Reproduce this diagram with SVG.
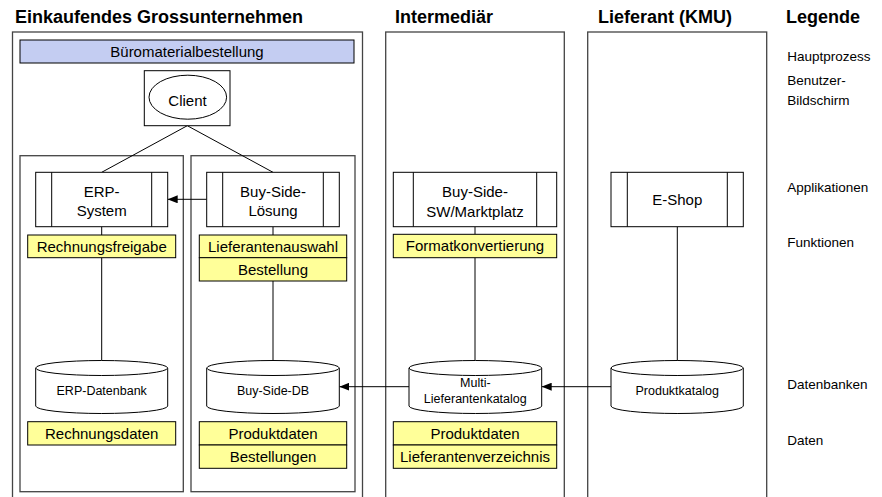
<svg xmlns="http://www.w3.org/2000/svg" width="882" height="497" viewBox="0 0 882 497">
<defs>
<style>
text{font-family:"Liberation Sans",Arial,sans-serif;fill:#000}
.title{font-size:18px;font-weight:bold}
.t{font-size:15px;text-anchor:middle}
.db{font-size:12.5px;text-anchor:middle}
.leg{font-size:13.5px}
.cont{fill:#fff;stroke:#444;stroke-width:1.3}
.node{fill:#fff;stroke:#000;stroke-width:1}
.fn{fill:#ffff99;stroke:#000;stroke-width:1}
.ln{stroke:#000;stroke-width:1;fill:none}
</style>
<marker id="ah" markerWidth="10" markerHeight="8" refX="10" refY="4" orient="auto" markerUnits="userSpaceOnUse">
<path d="M0,0 L10,4 L0,8 Z" fill="#000"/>
</marker>
</defs>
<rect width="882" height="497" fill="#fff"/>

<g id="titles">
<text class="title" x="15" y="23">Einkaufendes Grossunternehmen</text>
<text class="title" x="395" y="23">Intermediär</text>
<text class="title" x="598" y="23">Lieferant (KMU)</text>
<text class="title" x="786" y="23">Legende</text>
</g>

<g id="containers">
<rect class="cont" x="12.5" y="32" width="350" height="480"/>
<rect class="cont" x="385.7" y="32" width="178.6" height="480"/>
<rect class="cont" x="587.7" y="32" width="179" height="480"/>
<rect class="cont" x="20" y="155.7" width="163.3" height="336"/>
<rect class="cont" x="191" y="155.7" width="164" height="336"/>
</g>

<g id="connectors">
<line class="ln" x1="187.3" y1="125.7" x2="101.7" y2="172.3"/>
<line class="ln" x1="187.3" y1="125.7" x2="273" y2="172.3"/>
<line class="ln" x1="206.7" y1="199.3" x2="167.7" y2="199.3" marker-end="url(#ah)"/>
<line class="ln" x1="101.7" y1="226.7" x2="101.7" y2="235"/>
<line class="ln" x1="101.7" y1="257.7" x2="101.7" y2="360.5"/>
<line class="ln" x1="273" y1="226.7" x2="273" y2="235"/>
<line class="ln" x1="273" y1="281" x2="273" y2="360.5"/>
<line class="ln" x1="475" y1="226.7" x2="475" y2="234.3"/>
<line class="ln" x1="475" y1="257.7" x2="475" y2="360.5"/>
<line class="ln" x1="677.3" y1="226.7" x2="677.3" y2="360.5"/>
<line class="ln" x1="409" y1="386.7" x2="339.3" y2="386.7" marker-end="url(#ah)"/>
<line class="ln" x1="611" y1="386.7" x2="541.7" y2="386.7" marker-end="url(#ah)"/>
</g>

<g id="hauptprozess">
<rect x="20" y="40" width="334" height="23" fill="#c4cdf2" stroke="#000" stroke-width="1"/>
<text class="t" x="187" y="57">Büromaterialbestellung</text>
</g>

<g id="client">
<rect class="node" x="144.3" y="70.7" width="85.7" height="55"/>
<ellipse class="node" cx="187.8" cy="97.2" rx="38.8" ry="22"/>
<text class="t" x="187.5" y="106">Client</text>
</g>

<g id="erp-system">
<rect class="node" x="35.7" y="172.3" width="132" height="54.4"/>
<line class="ln" x1="51.7" y1="172.3" x2="51.7" y2="226.7"/>
<line class="ln" x1="151.7" y1="172.3" x2="151.7" y2="226.7"/>
<text class="t" x="101.7" y="197">ERP-</text>
<text class="t" x="101.7" y="215.5">System</text>
</g>

<g id="buy-side-loesung">
<rect class="node" x="206.7" y="172.3" width="132.6" height="54.4"/>
<line class="ln" x1="222.7" y1="172.3" x2="222.7" y2="226.7"/>
<line class="ln" x1="323.3" y1="172.3" x2="323.3" y2="226.7"/>
<text class="t" x="273" y="197">Buy-Side-</text>
<text class="t" x="273" y="215.5">Lösung</text>
</g>

<g id="buy-side-sw">
<rect class="node" x="393.3" y="172.3" width="163.4" height="54.4"/>
<line class="ln" x1="413.3" y1="172.3" x2="413.3" y2="226.7"/>
<line class="ln" x1="536.7" y1="172.3" x2="536.7" y2="226.7"/>
<text class="t" x="475" y="197">Buy-Side-</text>
<text class="t" x="475" y="217">SW/Marktplatz</text>
</g>

<g id="e-shop">
<rect class="node" x="611" y="172.3" width="132.3" height="54.4"/>
<line class="ln" x1="627.3" y1="172.3" x2="627.3" y2="226.7"/>
<line class="ln" x1="727.3" y1="172.3" x2="727.3" y2="226.7"/>
<text class="t" x="677.3" y="205.4">E-Shop</text>
</g>

<g id="rechnungsfreigabe">
<rect class="fn" x="27.7" y="235" width="148" height="22.7"/>
<text class="t" x="101.7" y="251.7">Rechnungsfreigabe</text>
</g>

<g id="lieferantenauswahl">
<rect class="fn" x="199.3" y="235" width="147.4" height="22.7"/>
<text class="t" x="273" y="251.7">Lieferantenauswahl</text>
</g>

<g id="bestellung">
<rect class="fn" x="199.3" y="257.7" width="147.4" height="23.3"/>
<text class="t" x="273" y="274.7">Bestellung</text>
</g>

<g id="formatkonvertierung">
<rect class="fn" x="393.3" y="234.3" width="163.4" height="23.4"/>
<text class="t" x="475" y="251.3">Formatkonvertierung</text>
</g>

<g id="erp-datenbank">
<path class="node" d="M35.7,368 L35.7,406 A66,7.5 0 0 0 167.7,406 L167.7,368"/>
<ellipse class="node" cx="101.7" cy="368" rx="66" ry="7.5"/>
<text class="db" x="101.7" y="394.5">ERP-Datenbank</text>
</g>

<g id="buy-side-db">
<path class="node" d="M206.7,368 L206.7,406 A66.3,7.5 0 0 0 339.3,406 L339.3,368"/>
<ellipse class="node" cx="273" cy="368" rx="66.3" ry="7.5"/>
<text class="db" x="273" y="394.5">Buy-Side-DB</text>
</g>

<g id="multi-lieferantenkatalog">
<path class="node" d="M409,368 L409,406 A66.35,7.5 0 0 0 541.7,406 L541.7,368"/>
<ellipse class="node" cx="475.35" cy="368" rx="66.35" ry="7.5"/>
<text class="db" x="475.3" y="387.2">Multi-</text>
<text class="db" x="475.3" y="402.8">Lieferantenkatalog</text>
</g>

<g id="produktkatalog">
<path class="node" d="M611,368 L611,406 A66.15,7.5 0 0 0 743.3,406 L743.3,368"/>
<ellipse class="node" cx="677.15" cy="368" rx="66.15" ry="7.5"/>
<text class="db" x="677.2" y="394.5">Produktkatalog</text>
</g>

<g id="rechnungsdaten">
<rect class="fn" x="27.7" y="421.7" width="148" height="23.3"/>
<text class="t" x="101.7" y="438.7">Rechnungsdaten</text>
</g>

<g id="produktdaten-1">
<rect class="fn" x="199.3" y="421.7" width="147.4" height="23.3"/>
<text class="t" x="273" y="438.7">Produktdaten</text>
</g>

<g id="bestellungen">
<rect class="fn" x="199.3" y="445" width="147.4" height="23.3"/>
<text class="t" x="273" y="462">Bestellungen</text>
</g>

<g id="produktdaten-2">
<rect class="fn" x="393.3" y="421.7" width="163.4" height="23.3"/>
<text class="t" x="475" y="438.7">Produktdaten</text>
</g>

<g id="lieferantenverzeichnis">
<rect class="fn" x="393.3" y="445" width="163.4" height="23.3"/>
<text class="t" x="475" y="462">Lieferantenverzeichnis</text>
</g>

<g id="legende">
<text class="leg" x="787.3" y="61">Hauptprozess</text>
<text class="leg" x="787.3" y="85">Benutzer-</text>
<text class="leg" x="787.3" y="105">Bildschirm</text>
<text class="leg" x="787.3" y="191.7">Applikationen</text>
<text class="leg" x="787.3" y="247.3">Funktionen</text>
<text class="leg" x="787.3" y="389.3">Datenbanken</text>
<text class="leg" x="787.3" y="445">Daten</text>
</g>
</svg>
